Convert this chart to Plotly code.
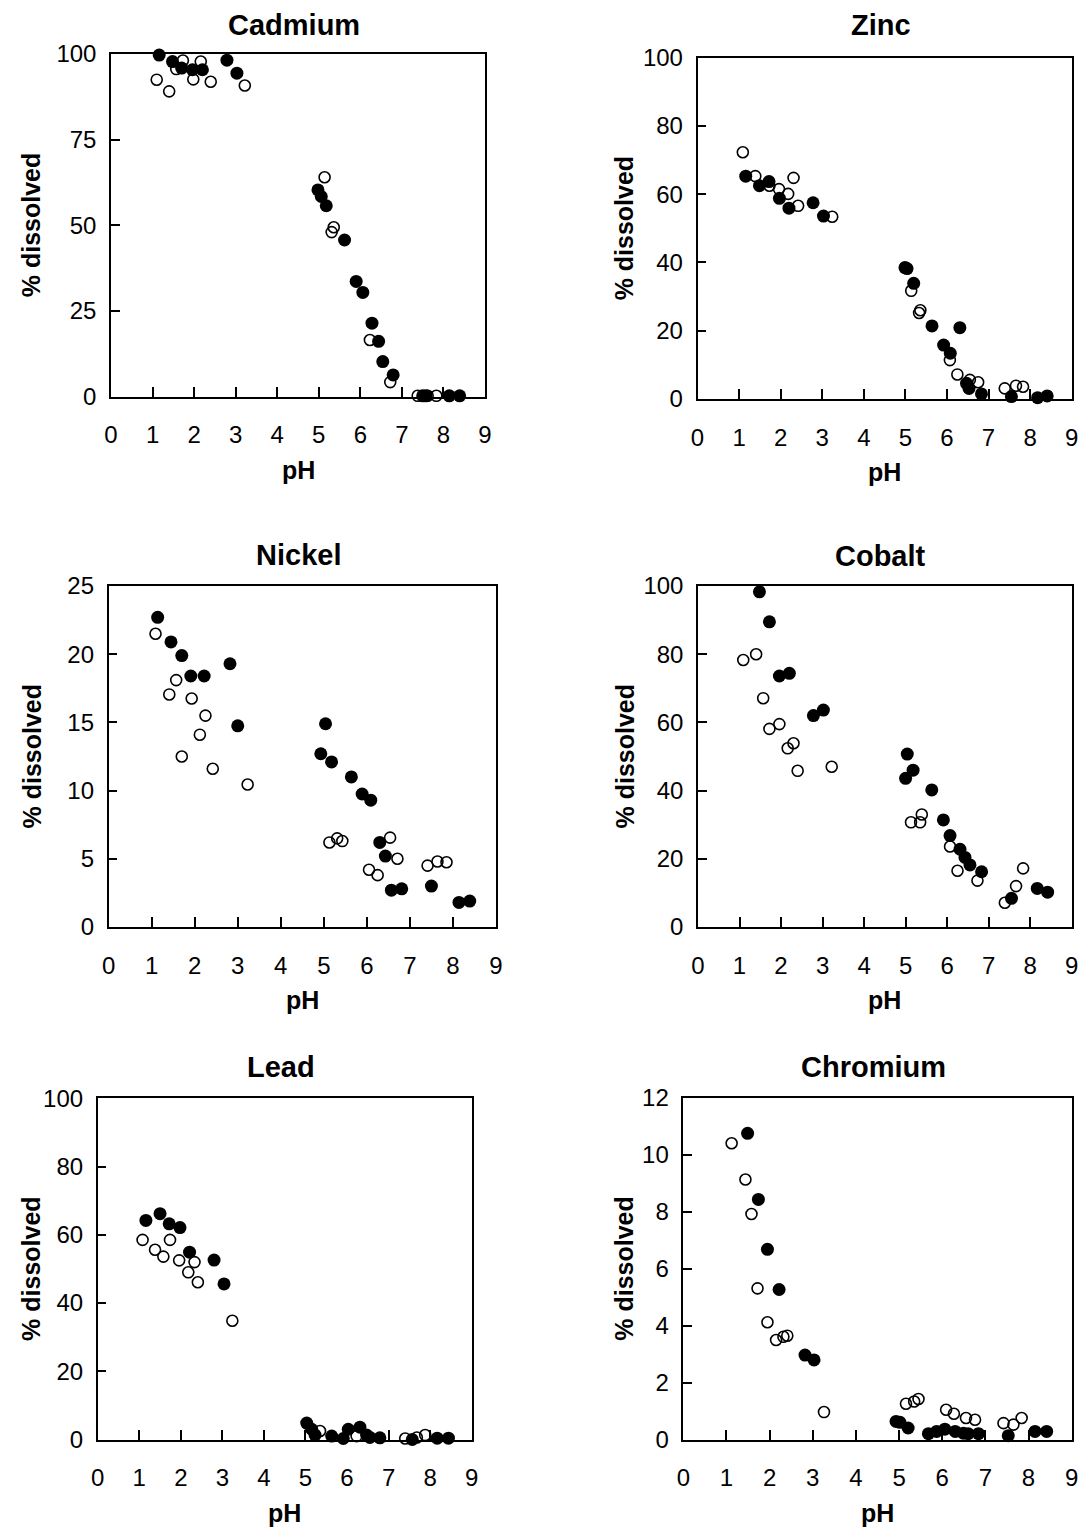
import plotly.graph_objects as go

W, H = 1082, 1528

# ---------------- data (pH vs % dissolved) ----------------
metals = ["Cadmium", "Zinc", "Nickel", "Cobalt", "Lead", "Chromium"]

cd_filled_ph = [1.16, 1.48, 1.70, 1.96, 2.20, 2.79, 3.03, 4.98, 5.06, 5.18, 5.62, 5.90, 6.06, 6.28, 6.44, 6.54, 6.79, 7.50, 7.58, 8.14, 8.39]
cd_filled_pct = [99.7, 97.8, 95.9, 95.4, 95.4, 98.2, 94.4, 60.3, 58.4, 55.7, 45.7, 33.6, 30.4, 21.4, 16.1, 10.2, 6.3, 0.2, 0.2, 0.2, 0.2]
cd_open_ph = [1.10, 1.40, 1.57, 1.73, 1.98, 2.16, 2.40, 3.22, 5.14, 5.31, 5.36, 6.23, 6.72, 7.38, 7.62, 7.83]
cd_open_pct = [92.5, 89.1, 95.6, 98.1, 92.6, 97.8, 91.9, 90.8, 64.0, 48.0, 49.4, 16.5, 4.2, 0.2, 0.2, 0.2]

zn_filled_ph = [1.16, 1.49, 1.72, 1.97, 2.20, 2.78, 3.03, 4.99, 5.04, 5.20, 5.64, 5.92, 6.08, 6.31, 6.47, 6.53, 6.83, 7.55, 8.18, 8.41]
zn_filled_pct = [65.3, 62.5, 63.7, 58.8, 55.9, 57.5, 53.6, 38.5, 38.2, 33.9, 21.4, 15.8, 13.4, 20.9, 4.6, 3.1, 1.5, 0.7, 0.4, 0.9]
zn_open_ph = [1.09, 1.39, 1.73, 1.96, 2.18, 2.31, 2.42, 3.24, 5.14, 5.33, 5.36, 6.07, 6.25, 6.55, 6.75, 7.39, 7.66, 7.83]
zn_open_pct = [72.3, 65.3, 62.5, 61.5, 60.1, 64.8, 56.6, 53.4, 31.7, 25.2, 26.0, 11.4, 7.2, 5.6, 4.9, 3.1, 3.9, 3.6]

ni_filled_ph = [1.14, 1.45, 1.70, 1.91, 2.22, 2.82, 3.00, 4.93, 5.04, 5.18, 5.64, 5.89, 6.09, 6.30, 6.43, 6.57, 6.81, 7.50, 8.14, 8.39]
ni_filled_pct = [22.7, 20.9, 19.9, 18.4, 18.4, 19.3, 14.75, 12.7, 14.9, 12.1, 11.0, 9.75, 9.3, 6.2, 5.2, 2.7, 2.8, 3.0, 1.8, 1.9]
ni_open_ph = [1.09, 1.41, 1.57, 1.70, 1.93, 2.12, 2.25, 2.42, 3.23, 5.13, 5.31, 5.43, 6.05, 6.25, 6.54, 6.71, 7.41, 7.64, 7.85]
ni_open_pct = [21.5, 17.05, 18.1, 12.5, 16.75, 14.1, 15.5, 11.6, 10.45, 6.2, 6.5, 6.3, 4.2, 3.8, 6.55, 5.0, 4.5, 4.8, 4.75]

co_filled_ph = [1.48, 1.72, 1.96, 2.20, 2.78, 3.02, 5.00, 5.04, 5.18, 5.63, 5.91, 6.07, 6.31, 6.43, 6.55, 6.83, 7.55, 8.17, 8.42]
co_filled_pct = [98.3, 89.5, 73.6, 74.4, 62.0, 63.6, 43.6, 50.7, 46.0, 40.2, 31.4, 26.8, 22.8, 20.4, 18.2, 16.2, 8.4, 11.3, 10.2]
co_open_ph = [1.09, 1.40, 1.57, 1.72, 1.96, 2.16, 2.30, 2.40, 3.22, 5.13, 5.35, 5.39, 6.07, 6.25, 6.73, 7.39, 7.66, 7.83]
co_open_pct = [78.3, 80.0, 67.1, 58.1, 59.5, 52.4, 53.9, 45.8, 47.0, 30.7, 30.7, 33.0, 23.6, 16.5, 13.6, 7.1, 12.0, 17.2]

pb_filled_ph = [1.16, 1.50, 1.72, 1.98, 2.21, 2.80, 3.04, 5.03, 5.15, 5.23, 5.63, 5.91, 6.03, 6.31, 6.47, 6.55, 6.79, 7.57, 8.17, 8.44]
pb_filled_pct = [64.2, 66.2, 63.2, 62.1, 54.9, 52.6, 45.6, 4.8, 3.0, 1.3, 1.0, 0.3, 3.0, 3.6, 1.3, 0.6, 0.5, 0.0, 0.4, 0.4]
pb_open_ph = [1.08, 1.38, 1.58, 1.74, 1.96, 2.18, 2.33, 2.41, 3.24, 5.35, 6.23, 7.40, 7.68, 7.88]
pb_open_pct = [58.5, 55.6, 53.6, 58.5, 52.5, 49.0, 52.0, 46.1, 34.8, 2.5, 1.0, 0.3, 0.6, 1.3]

cr_filled_ph = [1.49, 1.74, 1.95, 2.22, 2.82, 3.03, 4.93, 5.02, 5.21, 5.68, 5.87, 6.06, 6.30, 6.49, 6.60, 6.84, 7.53, 8.15, 8.42]
cr_filled_pct = [10.75, 8.43, 6.68, 5.27, 2.97, 2.80, 0.64, 0.61, 0.41, 0.21, 0.29, 0.37, 0.29, 0.23, 0.21, 0.21, 0.14, 0.29, 0.29]
cr_open_ph = [1.12, 1.44, 1.58, 1.72, 1.95, 2.15, 2.32, 2.41, 3.26, 5.16, 5.35, 5.45, 6.09, 6.27, 6.55, 6.76, 7.42, 7.65, 7.84]
cr_open_pct = [10.40, 9.13, 7.92, 5.31, 4.12, 3.50, 3.61, 3.65, 0.97, 1.26, 1.34, 1.43, 1.05, 0.91, 0.76, 0.70, 0.58, 0.53, 0.76]

y_max = [100, 100, 25, 100, 100, 12]
y_step = [25, 20, 5, 20, 20, 2]

filled = [(cd_filled_ph, cd_filled_pct), (zn_filled_ph, zn_filled_pct), (ni_filled_ph, ni_filled_pct),
          (co_filled_ph, co_filled_pct), (pb_filled_ph, pb_filled_pct), (cr_filled_ph, cr_filled_pct)]
opened = [(cd_open_ph, cd_open_pct), (zn_open_ph, zn_open_pct), (ni_open_ph, ni_open_pct),
          (co_open_ph, co_open_pct), (pb_open_ph, pb_open_pct), (cr_open_ph, cr_open_pct)]

# ---------------- layout geometry (pixels) ----------------
# left, right, top, bottom of each plot box
boxes = [
    (111.0, 485.0, 54.0, 396.5),
    (697.5, 1071.7, 57.7, 399.0),
    (108.6, 496.0, 586.0, 927.0),
    (698.0, 1071.7, 586.0, 927.0),
    (97.7, 471.7, 1098.3, 1439.5),
    (683.3, 1071.7, 1097.7, 1439.7),
]
title_y = [25, 25, 555, 556, 1067, 1067]

FONT = "Liberation Sans, Arial, sans-serif"

fig = go.Figure()
annotations = []

for i, name in enumerate(metals):
    l, r, t, b = boxes[i]
    n = "" if i == 0 else str(i + 1)
    xa, ya = "x" + n, "y" + n
    fx, fy = filled[i]
    ox, oy = opened[i]
    fig.add_trace(go.Scatter(
        x=ox, y=oy, mode="markers", xaxis=xa, yaxis=ya, cliponaxis=False,
        marker=dict(symbol="circle-open", size=11, color="black", line=dict(width=1.6, color="black")),
        showlegend=False, hoverinfo="x+y"))
    fig.add_trace(go.Scatter(
        x=fx, y=fy, mode="markers", xaxis=xa, yaxis=ya, cliponaxis=False,
        marker=dict(symbol="circle", size=13, color="black", line=dict(width=0)),
        showlegend=False, hoverinfo="x+y"))

    axcommon = dict(showline=True, linewidth=1.5, linecolor="black", mirror=True,
                    showgrid=False, zeroline=False, ticks="inside", tickwidth=1.5,
                    tickcolor="black", automargin=False,
                    tickfont=dict(family=FONT, size=24, color="black"))
    fig.update_layout(**{
        "xaxis" + n: dict(domain=[l / W, r / W], range=[0, 9], tick0=0, dtick=1,
                          ticklen=10, anchor=ya, ticklabelstandoff=16, **axcommon),
        "yaxis" + n: dict(domain=[1 - b / H, 1 - t / H], range=[0, y_max[i]], tick0=0,
                          dtick=y_step[i], ticklen=9, anchor=xa, ticklabelstandoff=8, **axcommon),
    })
    cx = (l + r) / 2
    # title
    annotations.append(dict(text="<b>%s</b>" % name, x=(cx - 4) / W, y=1 - title_y[i] / H,
                            xref="paper", yref="paper", xanchor="center", yanchor="middle",
                            showarrow=False, font=dict(family=FONT, size=29, color="black")))
    # x axis title
    annotations.append(dict(text="<b>pH</b>", x=cx / W, y=1 - (b + 73) / H,
                            xref="paper", yref="paper", xanchor="center", yanchor="middle",
                            showarrow=False, font=dict(family=FONT, size=25, color="black")))
    # y axis title
    ylab_x = 31 if i % 2 == 0 else 624
    annotations.append(dict(text="<b>% dissolved</b>", x=ylab_x / W, y=1 - ((t + b) / 2) / H,
                            xref="paper", yref="paper", xanchor="center", yanchor="middle",
                            textangle=-90, showarrow=False,
                            font=dict(family=FONT, size=25, color="black")))

fig.update_layout(width=W, height=H, margin=dict(l=0, r=0, t=0, b=0, autoexpand=False),
                  paper_bgcolor="white", plot_bgcolor="white",
                  annotations=annotations, showlegend=False)

fig.write_html("out.html",
               post_script="document.body.style.margin='0';document.body.style.padding='0';"
                           "document.documentElement.style.overflow='hidden';")
